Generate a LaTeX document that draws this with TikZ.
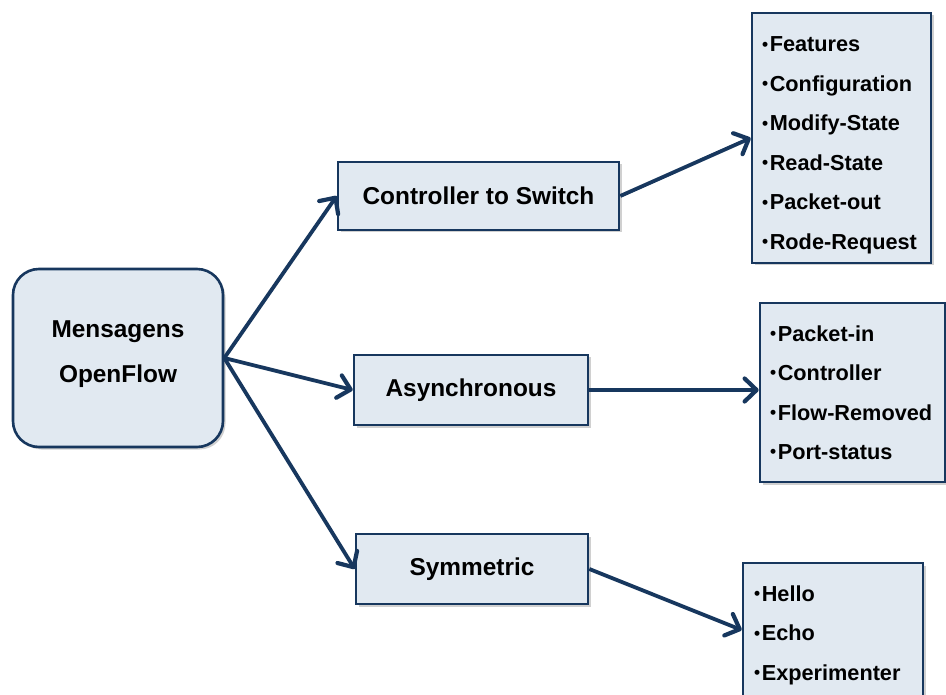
\documentclass[tikz,border=0pt]{standalone}
\usepackage{fontspec}
\usepackage{graphicx}
\setmainfont{Liberation Sans}
\usetikzlibrary{arrows.meta,shadows}
\definecolor{navy}{HTML}{17375E}
\definecolor{boxfill}{HTML}{E1E9F1}
% small list bullet
\newcommand\itemdot{\makebox[0.36em][l]{\raisebox{0.07em}{\scalebox{0.8}{\textbullet}}}}
\tikzset{
  box/.style={draw=navy, fill=boxfill, line width=2.6pt,
    drop shadow={shadow xshift=2.5pt, shadow yshift=-2.5pt, opacity=0.3, fill=black!60},
    inner sep=0pt},
  labelbox/.style={box, font=\bfseries\fontsize{24.4}{45}\selectfont, align=center},
  listbox/.style={box, font=\bfseries\fontsize{21.7}{39.5}\selectfont, align=left, inner xsep=10pt},
  link/.style={draw=navy, line width=3.8pt,
    -{Straight Barb[length=12pt,width=23pt,line width=4.2pt,round]}},
}
\begin{document}
\begin{tikzpicture}[x=1pt,y=-1pt]
\useasboundingbox[fill=white] (0,0) rectangle (946,695);

% root
\node[labelbox, rounded corners=26pt, minimum width=210pt, minimum height=178pt]
  (root) at (118,358) {Mensagens\\OpenFlow\rule[-12pt]{0pt}{12pt}};

% message categories
\node[labelbox, minimum width=281pt, minimum height=68pt] (cts)  at (478.5,196) {Controller to Switch};
\node[labelbox, minimum width=234pt, minimum height=70pt] (async) at (471,390) {Asynchronous};
\node[labelbox, minimum width=232pt, minimum height=70pt] (sym)   at (472,569) {Symmetric};

% message lists
\node[listbox, text width=159pt, minimum height=250pt] (l1) at (841.5,138)
  {\rule{0pt}{30pt}\itemdot Features\\\itemdot Configuration\\\itemdot Modify-State\\\itemdot Read-State\\\itemdot Packet-out\\\itemdot Rode-Request};
\node[listbox, text width=165pt, minimum height=179pt] (l2) at (852.5,392.5)
  {\itemdot Packet-in\\\itemdot Controller\\\itemdot Flow-Removed\\\itemdot Port-status};
\node[listbox, inner xsep=11pt, text width=158pt, minimum height=138pt] (l3) at (833,632)
  {\rule{0pt}{22pt}\itemdot Hello\\\itemdot Echo\\\itemdot Experimenter};

% connectors
\draw[link] (root.east) -- (cts.west);
\draw[link] (root.east) -- (async.west);
\draw[link] (root.east) -- (sym.west);
\draw[link] (cts.east) -- (l1.west);
\draw[link] (async.east) -- (l2.west |- async.east);
\draw[link] (sym.east) -- ([yshift=2pt]l3.west);
\end{tikzpicture}
\end{document}
